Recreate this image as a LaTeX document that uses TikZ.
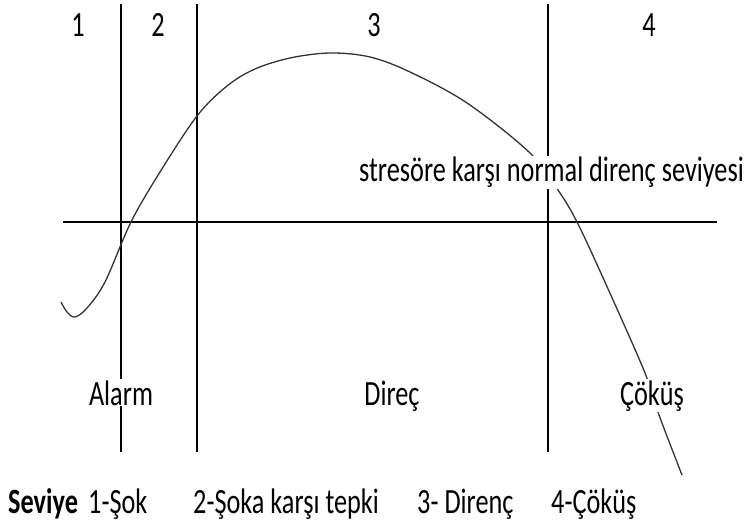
\documentclass[tikz,border=0pt]{standalone}
\usepackage{fontspec}
\newfontfamily\lblfont[FakeStretch=0.74]{Carlito}
\begin{document}
\begin{tikzpicture}[x=1pt,y=-1pt,
  lbl/.style={font=\lblfont\fontsize{35.5}{40}\selectfont, inner sep=1pt, anchor=base},
  cut/.style={fill=white}]

   \useasboundingbox (0,0) rectangle (751,526);

   % axis and the borders of the levels
   \draw[line width=1.4pt] (63,222) -- (717,222);
   \foreach \x in {121,197,548}
     \draw[line width=1.4pt] (\x,4) -- (\x,452);

   % curve
   \draw[line width=1.3pt, black!80] plot[smooth, tension=0.55] coordinates {
     (61,302) (67,312) (75,317) (87,308) (105,282) (131,222) (160,172)
     (197,116) (227,86) (255,69) (290,58) (330,53) (370,57) (410,72)
     (467,103) (530,153) (560,193) (580,228) (613,300) (645,373)
     (659,415) (682,475)};

   % level numbers
   \node[lbl] (n1) at (78,37) {1};
   \node[lbl] (n2) at (158,37) {2};
   \node[lbl] (n3) at (374,37) {3};
   \node[lbl] (n4) at (649,37) {4};

   \node[lbl, cut, anchor=base west] (normal) at (358,182) {stresöre karşı normal direnç seviyesi};

   \node[lbl, cut] (alarm) at (121,405) {Alarm};
   \node[lbl] (direc) at (392,405) {Direç};
   \node[lbl, cut] (cokus) at (652,405) {Çöküş};

   % legend
   \node[lbl, anchor=base west, font=\lblfont\bfseries\fontsize{35.5}{40}\selectfont] (seviye) at (7,513) {Seviye};
   \node[lbl, anchor=base west] (s1) at (87,513) {1-Şok};
   \node[lbl, anchor=base west] (s2) at (192,513) {2-Şoka karşı tepki};
   \node[lbl, anchor=base west] (s3) at (416,513) {3- Direnç};
   \node[lbl, anchor=base west] (s4) at (550,513) {4-Çöküş};

\end{tikzpicture}
\end{document}
